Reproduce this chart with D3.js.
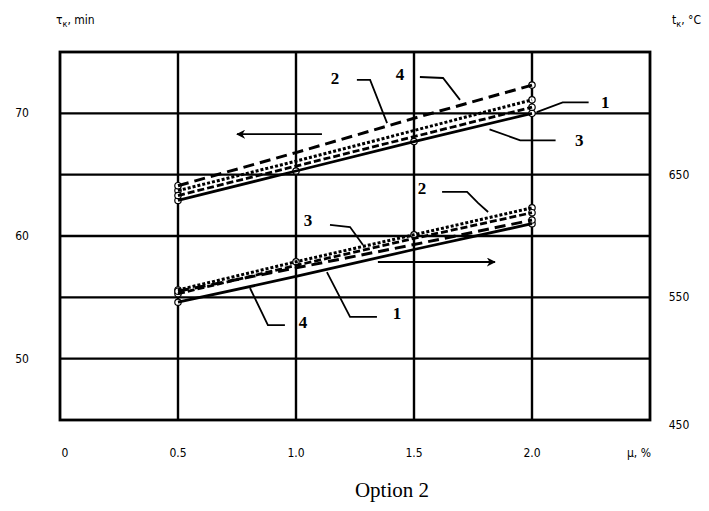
<!DOCTYPE html>
<html>
<head>
<meta charset="utf-8">
<script src="https://cdn.jsdelivr.net/npm/d3@7/dist/d3.min.js"></script>
<style>
  body { margin: 0; background: #fff; }
  .tick-lbl { font-family: "Liberation Sans Narrow", "DejaVu Sans Condensed", sans-serif; font-size: 12px; fill: #000; }
  .num { font-family: "Liberation Serif", serif; font-weight: bold; font-size: 17px; fill: #000; }
</style>
</head>
<body>
<div id="my_dataviz"></div>
<script>
// data
var mu = [0.5, 1.0, 1.5, 2.0];
var xTicks = [0, 0.5, 1.0, 1.5, 2.0];
var leftTicks = [50, 60, 70];
var rightTicks = [450, 550, 650];
var gridLeft = [50, 55, 60, 65, 70];

// upper band, left axis (tau_k, min)
var tau1 = [62.9, 65.3, 67.7, 70.0];
var tau2 = [63.7, 66.1, 68.6, 71.1];
var tau3 = [63.3, 65.7, 68.1, 70.5];
var tau4 = [64.1, 66.8, 69.6, 72.3];

// lower band, right axis (t_k, C)
var temp1 = [546, 567, 589, 610];
var temp2 = [556, 579, 601, 623];
var temp3 = [553, 576, 598, 619];
var temp4 = [555, 574, 593, 613];

// curve labels with leader lines, in data units [mu, value]
var upperNotes = [
  {name: "2", at: [1.165, 72.9], lead: [[1.258, 72.72], [1.314, 72.72], [1.386, 69.2]]},
  {name: "4", at: [1.441, 73.2], lead: [[1.525, 72.96], [1.623, 72.88], [1.695, 71.1]]},
  {name: "1", at: [2.31, 70.9], lead: [[2.02, 70.1], [2.13, 70.9], [2.24, 70.9]]},
  {name: "3", at: [2.20, 67.8], lead: [[1.82, 68.7], [1.95, 67.8], [2.10, 67.8]]}
];
var lowerNotes = [
  {name: "2", at: [1.534, 639], lead: [[1.619, 636], [1.725, 636], [1.771, 627], [1.814, 619.6]]},
  {name: "3", at: [1.051, 613], lead: [[1.144, 609], [1.229, 607.3], [1.284, 592.7]]},
  {name: "1", at: [1.428, 537], lead: [[1.131, 570.6], [1.229, 534], [1.343, 534]]},
  {name: "4", at: [1.030, 530], lead: [[0.805, 557.6], [0.881, 527.4], [0.953, 527.4]]}
];
var upperArrow = {from: 1.11, to: 0.75, v: 68.3};
var lowerArrow = {from: 1.347, to: 1.843, v: 578.8};

var styles = [
  {w: 2.8, dash: null},
  {w: 3, dash: "3,2"},
  {w: 2.8, dash: "7,3"},
  {w: 3, dash: "11,6"}
];

var width = 709, height = 511;

var svg = d3.select("#my_dataviz")
  .append("svg")
  .attr("width", width)
  .attr("height", height);

svg.append("defs").append("marker")
  .attr("id", "arr")
  .attr("viewBox", "0 0 10 10")
  .attr("refX", 9).attr("refY", 5)
  .attr("markerWidth", 5).attr("markerHeight", 5)
  .attr("orient", "auto-start-reverse")
  .append("path").attr("d", "M0,0 L10,5 L0,10 L3,5 z").attr("fill", "#000");

// scales
var x = d3.scaleLinear().domain([0, 2.5]).range([60, 650]);
var yL = d3.scaleLinear().domain([45, 75]).range([420, 52]);
var yR = d3.scaleLinear().domain([450, 750]).range([420, 52]);

// grid
svg.append("g").selectAll("line").data(mu).enter().append("line")
  .attr("x1", function(d){ return x(d); }).attr("x2", function(d){ return x(d); })
  .attr("y1", yL(75)).attr("y2", yL(45))
  .attr("stroke", "#000").attr("stroke-width", 2.4);
svg.append("g").selectAll("line").data(gridLeft).enter().append("line")
  .attr("y1", function(d){ return yL(d); }).attr("y2", function(d){ return yL(d); })
  .attr("x1", x(0)).attr("x2", x(2.5))
  .attr("stroke", "#000").attr("stroke-width", 2.4);
svg.append("rect")
  .attr("x", x(0)).attr("y", yL(75))
  .attr("width", x(2.5) - x(0)).attr("height", yL(45) - yL(75))
  .attr("fill", "none").attr("stroke", "#000").attr("stroke-width", 2.8);

// tick labels
svg.append("g").selectAll("text").data(leftTicks).enter().append("text")
  .attr("class", "tick-lbl")
  .attr("x", 22).attr("y", function(d){ return yL(d) + 4; })
  .attr("text-anchor", "middle")
  .text(function(d){ return d; });
svg.append("g").selectAll("text").data(rightTicks).enter().append("text")
  .attr("class", "tick-lbl")
  .attr("x", 679).attr("y", function(d){ return yR(d) + (d == 450 ? 9 : 4); })
  .attr("text-anchor", "middle")
  .text(function(d){ return d; });
svg.append("g").selectAll("text").data(xTicks).enter().append("text")
  .attr("class", "tick-lbl")
  .attr("x", function(d){ return d == 0 ? x(d) + 5 : x(d); })
  .attr("y", 457)
  .attr("text-anchor", "middle")
  .text(function(d){ return d == 0 ? "0" : d3.format(".1f")(d); });
svg.append("text").attr("class", "tick-lbl")
  .attr("x", 639).attr("y", 457).attr("text-anchor", "middle").text("μ, %");

// axis titles
var tl = svg.append("text").attr("class", "tick-lbl").attr("x", 56).attr("y", 24);
tl.append("tspan").text("τ");
tl.append("tspan").attr("font-size", "9px").attr("dy", 3).text("к");
tl.append("tspan").attr("dy", -3).text(", min");
var tr = svg.append("text").attr("class", "tick-lbl").attr("x", 672).attr("y", 24);
tr.append("tspan").text("t");
tr.append("tspan").attr("font-size", "9px").attr("dy", 3).text("к");
tr.append("tspan").attr("dy", -3).text(", °C");

// curves; circles at both ends of every curve, mid circles on one curve only
function drawBand(series, y, midOn) {
  var line = d3.line()
    .x(function(d, i){ return x(mu[i]); })
    .y(function(d){ return y(d); });
  var g = svg.append("g");
  series.forEach(function(s, k) {
    g.selectAll(null).data(s).enter()
      .filter(function(d, i){ return i == 0 || i == s.length - 1 || k == midOn; })
      .append("circle")
      .attr("cx", function(d){ return x(mu[s.indexOf(d)]); })
      .attr("cy", function(d){ return y(d); })
      .attr("r", 3.2)
      .attr("fill", "#fff").attr("stroke", "#000").attr("stroke-width", 1.2);
  });
  series.forEach(function(s, k) {
    g.append("path").datum(s)
      .attr("d", line)
      .attr("fill", "none")
      .attr("stroke", "#000")
      .attr("stroke-width", styles[k].w)
      .attr("stroke-dasharray", styles[k].dash);
  });
}
drawBand([tau1, tau2, tau3, tau4], yL, 0);
drawBand([temp1, temp2, temp3, temp4], yR, 1);

// leaders and numbers
function drawNotes(notes, y) {
  var lead = d3.line()
    .x(function(d){ return x(d[0]); })
    .y(function(d){ return y(d[1]); });
  notes.forEach(function(n) {
    svg.append("path").attr("d", lead(n.lead))
      .attr("fill", "none").attr("stroke", "#000").attr("stroke-width", 1.8);
    svg.append("text").attr("class", "num")
      .attr("x", x(n.at[0])).attr("y", y(n.at[1]) + 6)
      .attr("text-anchor", "middle")
      .text(n.name);
  });
}
drawNotes(upperNotes, yL);
drawNotes(lowerNotes, yR);

// arrows showing which axis
svg.append("line")
  .attr("x1", x(upperArrow.from)).attr("x2", x(upperArrow.to))
  .attr("y1", yL(upperArrow.v)).attr("y2", yL(upperArrow.v))
  .attr("stroke", "#000").attr("stroke-width", 1.8).attr("marker-end", "url(#arr)");
svg.append("line")
  .attr("x1", x(lowerArrow.from)).attr("x2", x(lowerArrow.to))
  .attr("y1", yR(lowerArrow.v)).attr("y2", yR(lowerArrow.v))
  .attr("stroke", "#000").attr("stroke-width", 1.8).attr("marker-end", "url(#arr)");

// caption
svg.append("text")
  .attr("x", 392).attr("y", 497)
  .attr("text-anchor", "middle")
  .style("font-family", "Liberation Serif, serif")
  .style("font-size", "21px")
  .text("Option 2");
</script>
</body>
</html>
